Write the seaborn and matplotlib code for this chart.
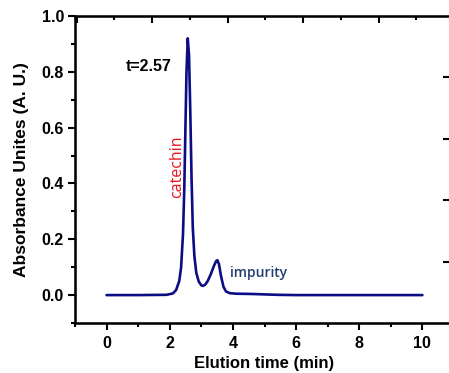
import numpy as np
import pandas as pd
import seaborn as sns
import matplotlib.pyplot as plt
from matplotlib.ticker import MultipleLocator

# 色谱数据（从图中读取的采样点）
time_min = [0.0, 1.0, 1.9, 2.1, 2.2, 2.3, 2.36, 2.42, 2.46, 2.5, 2.53, 2.57,
            2.61, 2.65, 2.69, 2.73, 2.78, 2.84, 2.92, 3.0, 3.05, 3.12, 3.2,
            3.3, 3.4, 3.47, 3.51, 3.56, 3.62, 3.7, 3.78, 3.9, 4.1, 4.6, 5.4,
            6.0, 8.0, 10.0]
absorbance = [0.0, 0.0, 0.001, 0.006, 0.018, 0.05, 0.10, 0.22, 0.38, 0.62,
              0.80, 0.92, 0.86, 0.66, 0.42, 0.24, 0.14, 0.08, 0.048, 0.035,
              0.033, 0.037, 0.05, 0.075, 0.105, 0.122, 0.125, 0.11, 0.07,
              0.03, 0.013, 0.007, 0.005, 0.004, 0.001, 0.0, 0.0, 0.0]

x_ticks = [0, 2, 4, 6, 8, 10]
y_ticks = [0.0, 0.2, 0.4, 0.6, 0.8, 1.0]
y_ticklabels = ['0.0', '0.2', '0.4', '0.6', '0.8', '1.0']

df = pd.DataFrame({'time': time_min, 'abs': absorbance})

sns.set_style('ticks', {'axes.edgecolor': 'black', 'xtick.color': 'black',
                        'ytick.color': 'black', 'text.color': 'black',
                        'axes.labelcolor': 'black'})
plt.rcParams['font.family'] = ['Liberation Sans', 'DejaVu Sans']
plt.rcParams['font.weight'] = 'bold'

fig = plt.figure(figsize=(4.49, 3.73), dpi=100)
ax = fig.add_axes([75 / 449, 50 / 373, 379 / 449, 307 / 373])

sns.lineplot(data=df, x='time', y='abs', ax=ax, color='#0c0c84', linewidth=1.9)

ax.set_xlim(-1, 11)
ax.set_ylim(-0.1, 1.0)
ax.set_xticks(x_ticks)
ax.set_xticklabels([str(t) for t in x_ticks])
ax.set_yticks(y_ticks)
ax.set_yticklabels(y_ticklabels)
ax.xaxis.set_minor_locator(MultipleLocator(1))
ax.yaxis.set_minor_locator(MultipleLocator(0.1))
ax.tick_params(which='major', direction='out', length=5, width=1.5, labelsize=11.5, pad=3)
ax.tick_params(axis='x', which='major', pad=4)
ax.tick_params(which='minor', direction='out', length=3, width=1.5)
for s in ax.spines.values():
    s.set_linewidth(1.8)

ax.set_xlabel('Elution time (min)', fontsize=12, fontweight='bold', labelpad=4)
ax.set_ylabel('Absorbance Unites (A. U.)', fontsize=12.5, fontweight='bold', labelpad=9)

# 顶部 / 右侧的残留刻度（原图为裁剪后的复合图）
ax_top = ax.twiny()
ax_top.set_xlim(-1.02, 4.0)
ax_top.xaxis.set_major_locator(MultipleLocator(1))
ax_top.xaxis.set_minor_locator(MultipleLocator(0.5))
ax_top.tick_params(axis='x', which='major', direction='in', length=5, width=1.5, labeltop=False)
ax_top.tick_params(axis='x', which='minor', direction='in', length=3, width=1.5)

ax_right = ax.twinx()
ax_right.set_ylim(0.01, 4.99)
ax_right.yaxis.set_major_locator(MultipleLocator(1))
ax_right.tick_params(axis='y', which='major', direction='in', length=8, width=1.5, labelright=False)

# 注释文字
ax.text(0.6, 0.82, 't=2.57', fontsize=11.5, fontweight='bold', color='black',
        ha='left', va='center')
ax.text(2.22, 0.46, 'catechin', fontsize=11.5, color='#e8141e', rotation=90,
        ha='center', va='center', family=['Open Sans', 'DejaVu Sans'], fontweight='normal')
ax.text(3.9, 0.08, 'impurity', fontsize=10, color='#1f3d6e',
        ha='left', va='center', family=['Open Sans', 'DejaVu Sans'], fontweight='semibold')

fig.savefig('out.png', dpi=100)
